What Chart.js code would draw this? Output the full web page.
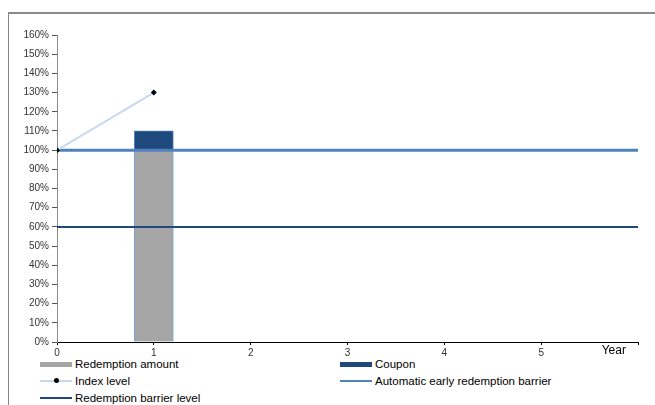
<!DOCTYPE html>
<html>
<head>
<meta charset="utf-8">
<script src="https://cdn.jsdelivr.net/npm/chart.js@4/dist/chart.umd.min.js"></script>
<style>
  body { margin: 0; background: #fff; width: 655px; height: 405px; overflow: hidden; font-family: "Liberation Sans", Arial, sans-serif; }
  #frame { position: absolute; left: 8px; top: 12px; width: 660px; height: 400px; border-left: 1px solid #8a8a8a; border-top: 2px solid #8a8a8a; }
  #wrap { position: absolute; left: 9px; top: 14px; width: 640px; height: 343px; }
  #legend { position: absolute; left: 40px; top: 357px; width: 600px; }
  .item { position: absolute; height: 14px; font-size: 11.5px; line-height: 14px; color: #000; white-space: nowrap; }
  .sym { position: absolute; left: 0; width: 32px; }
  .txt { position: absolute; left: 35px; top: 0; }
</style>
</head>
<body>
<div id="frame"></div>
<div id="wrap"><canvas id="chart"></canvas></div>
<div id="legend"></div>
<script>
// chart data
var years = [0, 1, 2, 3, 4, 5];
var redemptionYears = [1];
var redemptionAmount = [100];
var couponRange = [[100, 110]];
var indexYears = [0, 1];
var indexLevel = [100, 130];
var barrierYears = [0, 6];
var earlyBarrier = [100, 100];
var redemptionBarrier = [60, 60];

function pts(xs, ys) {
  return xs.map(function (x, i) { return { x: x, y: ys[i] }; });
}

var yearLabel = {
  id: "yearLabel",
  afterDraw: function (chart) {
    var ctx = chart.ctx;
    var x = chart.scales.x;
    ctx.save();
    ctx.font = "12px 'Liberation Sans', Arial, sans-serif";
    ctx.fillStyle = "#000";
    ctx.textAlign = "center";
    ctx.textBaseline = "top";
    ctx.fillText("Year", x.getPixelForValue(5.75), x.top + 3);
    ctx.restore();
  }
};

var chart = new Chart(document.getElementById("chart"), {
  type: "bar",
  data: {
    datasets: [
      {
        type: "bar",
        label: "Redemption amount",
        data: pts(redemptionYears, redemptionAmount),
        backgroundColor: "#a6a6a6",
        borderColor: "#7ea3d0",
        borderWidth: 1,
        barThickness: 39,
        grouped: false,
        order: 5
      },
      {
        type: "bar",
        label: "Coupon",
        data: pts(redemptionYears, couponRange),
        backgroundColor: "#1f497d",
        borderColor: "#4f81bd",
        borderWidth: 1,
        barThickness: 39,
        grouped: false,
        order: 4
      },
      {
        type: "line",
        label: "Index level",
        data: pts(indexYears, indexLevel),
        borderColor: "#c6d9f1",
        borderWidth: 2,
        pointStyle: "rectRot",
        pointRadius: 3,
        pointBackgroundColor: "#000",
        pointBorderColor: "#000",
        pointBorderWidth: 0,
        order: 1
      },
      {
        type: "line",
        label: "Automatic early redemption barrier",
        data: pts(barrierYears, earlyBarrier),
        borderColor: "#4f81bd",
        borderWidth: 3,
        pointRadius: 0,
        order: 2
      },
      {
        type: "line",
        label: "Redemption barrier level",
        data: pts(barrierYears, redemptionBarrier),
        borderColor: "#1f497d",
        borderWidth: 2,
        pointRadius: 0,
        order: 3
      }
    ]
  },
  options: {
    responsive: true,
    maintainAspectRatio: false,
    animation: false,
    layout: { padding: { top: 21, right: 11 } },
    scales: {
      x: {
        type: "linear",
        offset: false,
        min: 0,
        max: 6,
        border: { color: "#000", width: 1 },
        grid: { display: true, offset: false, drawOnChartArea: false, tickLength: 3, color: "#000" },
        ticks: {
          stepSize: 1,
          padding: 2,
          color: "#333",
          font: { family: "'Liberation Sans', Arial, sans-serif", size: 10 },
          callback: function (v) { return years.indexOf(v) >= 0 ? String(v) : ""; }
        },
        afterFit: function (s) { s.height = 15; }
      },
      y: {
        min: 0,
        max: 160,
        border: { color: "#8a8a8a", width: 1 },
        grid: { display: true, drawOnChartArea: false, tickLength: 5, color: "#555" },
        ticks: {
          stepSize: 10,
          padding: 3,
          color: "#333",
          font: { family: "'Liberation Sans', Arial, sans-serif", size: 10 },
          callback: function (v) { return v + "%"; }
        },
        afterFit: function (s) { s.width = 48; }
      }
    },
    plugins: {
      legend: { display: false },
      tooltip: { enabled: false }
    }
  },
  plugins: [yearLabel]
});

// html legend, two columns
var legend = document.getElementById("legend");
chart.data.datasets.forEach(function (ds, k) {
  var item = document.createElement("div");
  item.className = "item";
  item.style.left = (k % 2 === 0 ? 0 : 300) + "px";
  item.style.top = (Math.floor(k / 2) * 17) + "px";
  var sym = document.createElement("div");
  sym.className = "sym";
  if (ds.type === "bar") {
    sym.style.top = "5px";
    sym.style.height = "5px";
    sym.style.background = ds.backgroundColor;
  } else {
    sym.style.top = "6px";
    sym.style.height = "2px";
    sym.style.background = ds.borderColor;
    if (ds.pointRadius > 0) {
      var dot = document.createElement("div");
      dot.style.cssText = "position:absolute;left:14px;top:-2px;width:5px;height:5px;border-radius:50%;background:#000;";
      sym.appendChild(dot);
    }
  }
  var txt = document.createElement("div");
  txt.className = "txt";
  txt.textContent = ds.label;
  item.appendChild(sym);
  item.appendChild(txt);
  legend.appendChild(item);
});
</script>
</body>
</html>
